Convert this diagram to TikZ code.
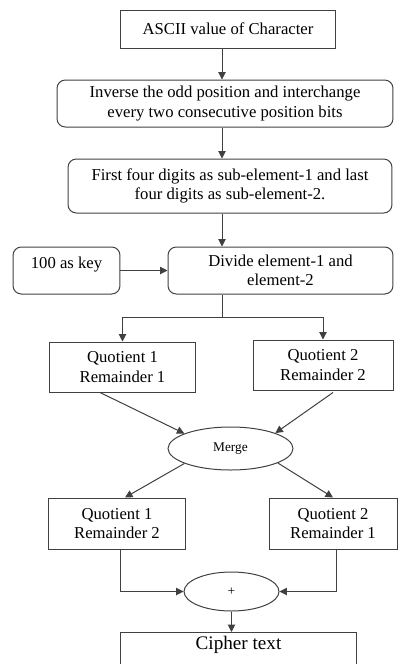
\documentclass[tikz,border=0pt]{standalone}
\usepackage{fontspec}
\setmainfont{Liberation Serif}
\usetikzlibrary{arrows.meta,shapes.geometric}

\begin{document}
\begin{tikzpicture}[x=0.6pt, y=-0.6pt,
    line/.style={draw=black!75, line width=0.6pt},
    box/.style={line, align=center, inner sep=2pt, font=\fontsize{10}{11.5}\selectfont},
    rbox/.style={box, rounded corners=5pt},
    oval/.style={line, ellipse, inner sep=0pt},
    arrow/.style={line, -{Triangle[length=4.5pt, width=4.5pt]}}]
    \useasboundingbox (0,0) rectangle (398,664);
    \clip (0,0) rectangle (398,664);
    \coordinate (spine) at (222,0);

    % Top chain
    \node[box, minimum width=129.6pt, minimum height=22.8pt] (ascii) at (228,29) {ASCII value of Character};
    \node[rbox, minimum width=201.6pt, minimum height=28.2pt] (inverse) at (225,103.5)
        {Inverse the odd position and interchange\\every two consecutive position bits};
    \node[rbox, minimum width=194.4pt, minimum height=32.4pt] (split4) at (230,186)
        {First four digits as sub-element-1 and last\\four digits as sub-element-2.};

    % Key and division
    \node[rbox, minimum width=64.2pt, minimum height=28.2pt, text height=7pt, text depth=9pt] (key) at (66.5,270.5) {100 as key};
    \node[rbox, minimum width=135pt, minimum height=28.2pt] (divide) at (280.5,270.5) {Divide element-1 and\\element-2};

    \draw[arrow] (ascii.south -| spine) -- (inverse.north -| spine);
    \draw[arrow] (inverse.south -| spine) -- (split4.north -| spine);
    \draw[arrow] (split4.south -| spine) -- (divide.north -| spine);
    \draw[arrow] (key.east) -- (key.east -| divide.west);

    % Quotients and remainders
    \node[box, minimum width=88.2pt, minimum height=30pt] (qr11) at (122.5,367) {Quotient 1\\Remainder 1};
    \node[box, minimum width=84pt, minimum height=30pt] (qr22) at (323,365) {Quotient 2\\Remainder 2};
    \coordinate (fork) at (222,317);
    \draw[line] (divide.south -| spine) -- (fork);
    \draw[arrow] (fork) -| (qr11.north);
    \draw[arrow] (fork) -| (qr22.north);

    % Merge
    \node[oval, minimum width=75pt, minimum height=25.8pt, font=\fontsize{8}{9}\selectfont] (merge) at (230.5,448.5) {Merge};
    \draw[arrow] ([xshift=-13.5pt]qr11.south) -- (merge.162);
    \draw[arrow] ([xshift=6pt]qr22.south |- qr11.south) -- (merge.19);

    \node[box, minimum width=82.8pt, minimum height=30.6pt] (qr12) at (117,523.5) {Quotient 1\\Remainder 2};
    \node[box, minimum width=76.8pt, minimum height=30.6pt] (qr21) at (333,523.5) {Quotient 2\\Remainder 1};
    \draw[arrow] (merge.198) -- ([xshift=4.8pt]qr12.north);
    \draw[arrow] (merge.-17) -- (qr21.north);

    % Sum and output
    \node[oval, minimum width=57pt, minimum height=23.4pt, font=\fontsize{8}{9}\selectfont] (plus) at (231.5,591.5) {+};
    \draw[arrow] ([xshift=1.8pt]qr12.south) |- (plus.west);
    \draw[arrow] ([xshift=1.8pt]qr21.south) |- (plus.east);

    \node[box, anchor=north, minimum width=142.2pt, text height=8pt, text depth=20pt, font=\fontsize{11.5}{13}\selectfont] (cipher) at (238.5,632) {Cipher text};
    \draw[arrow] (plus.south) -- (plus.south |- cipher.north);
\end{tikzpicture}
\end{document}
